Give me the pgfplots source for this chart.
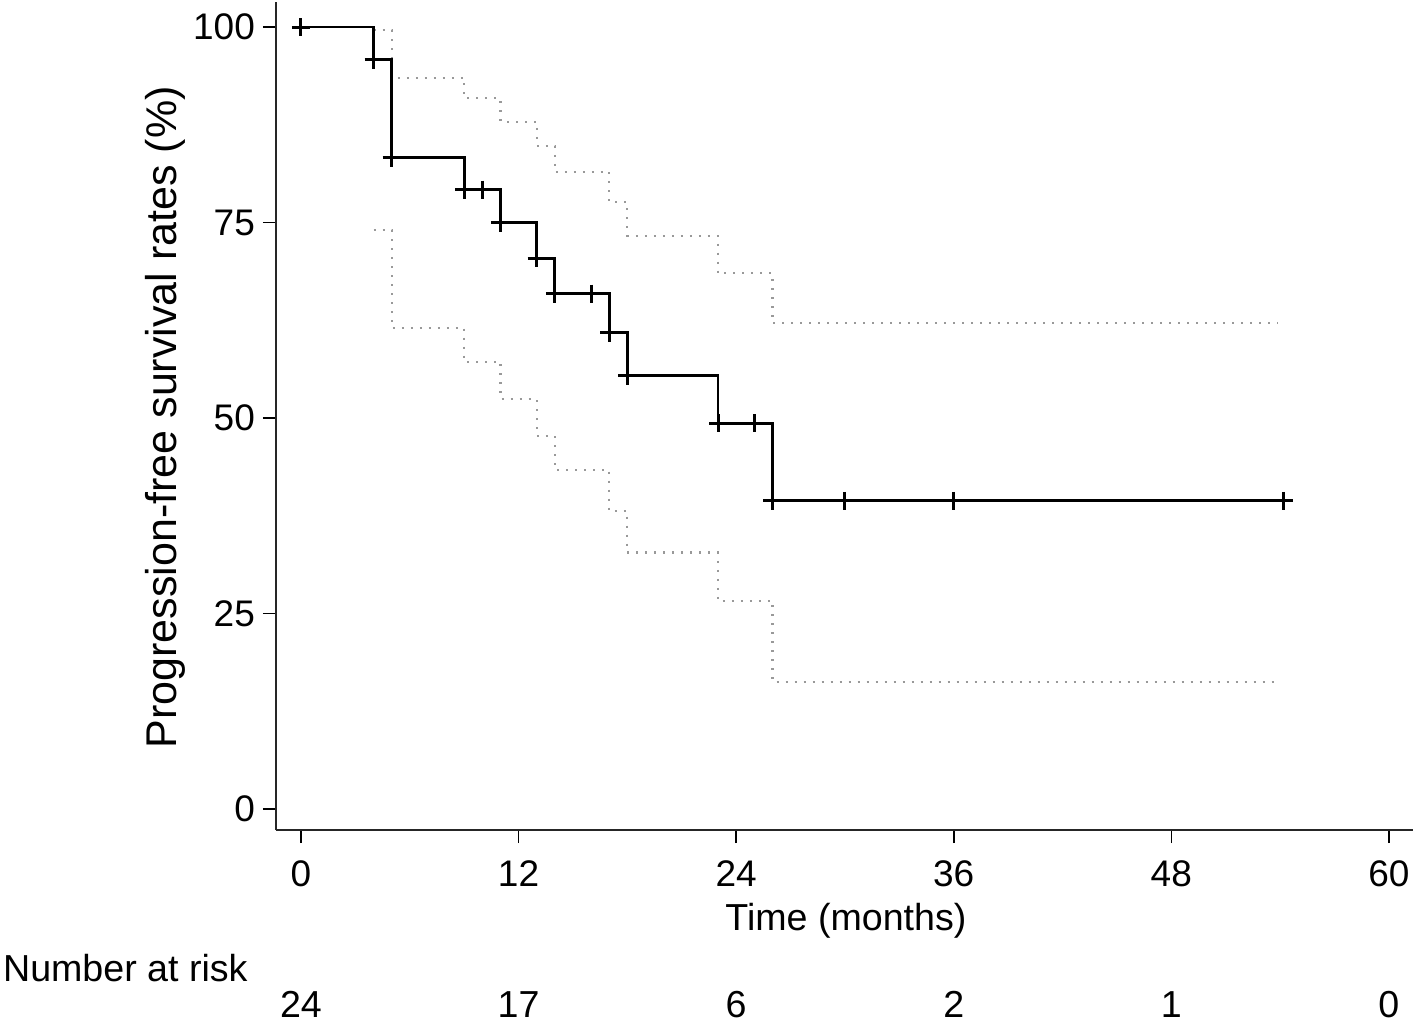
\documentclass[border=0pt]{standalone}
\usepackage{fontspec}
\setmainfont{Liberation Sans}
\usepackage{pgfplots}
\pgfplotsset{compat=1.18}
\begin{document}
\begin{tikzpicture}
\begin{axis}[
  scale only axis,
  width=568.5pt, height=414pt,
  xmin=-1.38, xmax=61.33,
  ymin=-2.69, ymax=103.2,
  axis lines*=left,
  axis line style={line width=1pt, black!85, -},
  xtick={0,12,24,36,48,60},
  ytick={0,25,50,75,100},
  tick align=outside,
  major tick length=6.5pt,
  tick style={line width=0.8pt, black},
  /pgf/number format/assume math mode=true,
  tick label style={font=\fontsize{18.5}{21}\selectfont},
  xticklabel style={yshift=-5.5pt},
  yticklabel style={xshift=-0.5pt},
  xlabel={Time (months)},
  xlabel style={at={(rel axis cs:0.5013,-0.11)}, anchor=center, font=\fontsize{18.8}{21}\selectfont},
  ylabel={Progression-free survival rates (\%)},
  ylabel style={at={(rel axis cs:-0.0976,0.4985)}, anchor=center, rotate=0, font=\fontsize{21.5}{24}\selectfont},
  clip=false,
]
\path (rel axis cs:-0.2427,-0.2355) rectangle (rel axis cs:1.0044,1.0024);
% upper CI
\addplot[const plot, gray!80, line width=1.1pt, dash pattern=on 1pt off 3.5pt] coordinates {
(4,99.6) (5,93.5) (9,90.9) (11,87.9) (13,84.8) (14,81.5) (17,77.6) (18,73.3) (23,68.5) (26,62.1) (53.9,62.1)};
% lower CI
\addplot[const plot, gray!80, line width=1.1pt, dash pattern=on 1pt off 3.5pt] coordinates {
(4,74.0) (5,61.5) (9,57.2) (11,52.4) (13,47.7) (14,43.4) (17,38.1) (18,32.8) (23,26.6) (26,16.2) (53.9,16.2)};
% survival
\addplot[const plot, black, line width=1.4pt] coordinates {
(0,100) (4,95.8) (5,83.3) (9,79.2) (11,75.0) (13,70.4) (14,65.9) (17,60.9) (18,55.4) (23,49.3) (26,39.4) (54.6,39.4)};
% censor marks
\addplot[only marks, mark=+, mark size=4.5pt, mark options={line width=1.5pt, black}] coordinates {
(0,100) (4,95.8) (5,83.3) (9,79.2) (10,79.2) (11,75.0) (13,70.4) (14,65.9) (16,65.9) (17,60.9) (18,55.4) (23,49.3) (25,49.3) (26,39.4) (30,39.4) (36,39.4) (54.2,39.4)};
\node[anchor=west, inner sep=0pt, font=\fontsize{18.8}{21}\selectfont] at (axis cs:-16.45,-20.3) {Number at risk};
\node[font=\fontsize{18.8}{21}\selectfont] at (axis cs:0,-25.0) {24};
\node[font=\fontsize{18.8}{21}\selectfont] at (axis cs:12,-25.0) {17};
\node[font=\fontsize{18.8}{21}\selectfont] at (axis cs:24,-25.0) {6};
\node[font=\fontsize{18.8}{21}\selectfont] at (axis cs:36,-25.0) {2};
\node[font=\fontsize{18.8}{21}\selectfont] at (axis cs:48,-25.0) {1};
\node[font=\fontsize{18.8}{21}\selectfont] at (axis cs:60,-25.0) {0};
\end{axis}
\end{tikzpicture}
\end{document}
